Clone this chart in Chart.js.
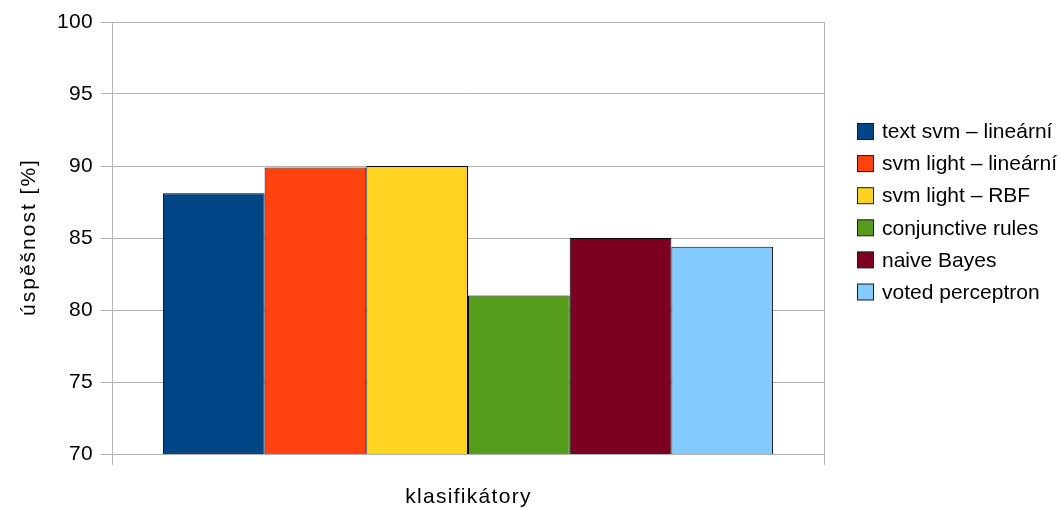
<!DOCTYPE html>
<html>
<head>
<meta charset="utf-8">
<script src="https://cdn.jsdelivr.net/npm/chart.js@4/dist/chart.umd.min.js"></script>
<style>
  html, body { margin: 0; padding: 0; background: #ffffff; }
  canvas { display: block; }
</style>
</head>
<body>
<canvas id="chart" width="1060" height="508"></canvas>
<script>
// Success rate of each classifier (single group of bars)
const categories = [''];
const seriesNames = [
  'text svm – lineární',
  'svm light – lineární',
  'svm light – RBF',
  'conjunctive rules',
  'naive Bayes',
  'voted perceptron'
];
const seriesValues = [88.1, 89.9, 90.0, 81.0, 85.0, 84.4];
const seriesColors = ['#004586', '#ff420e', '#ffd320', '#579d1c', '#7e0021', '#83caff'];
const yTickValues = [70, 75, 80, 85, 90, 95, 100];
const xTitle = 'klasifikátory';
const yTitle = 'úspěšnost [%]';

const FONT = 'Liberation Sans, Arial, sans-serif';
const LABEL_SIZE = 21;
const TITLE_SIZE = 21;
const SPACING = '0.3px';
const GRID = '#b3b3b3';

const datasets = seriesNames.map((name, i) => ({
  label: name,
  data: [seriesValues[i]],
  backgroundColor: seriesColors[i],
  borderColor: '#000000',
  borderWidth: 1,
  borderSkipped: false
}));

// Glyph spacing for tick labels
const spacingPlugin = {
  id: 'spacing',
  beforeUpdate(chart) { chart.ctx.letterSpacing = SPACING; },
  beforeLayout(chart) { chart.ctx.letterSpacing = SPACING; },
  beforeDraw(chart) { chart.ctx.letterSpacing = SPACING; }
};

// Axis titles with slightly wider letter spacing
const axisTitles = {
  id: 'axisTitles',
  afterDraw(chart) {
    const ctx = chart.ctx;
    const area = chart.chartArea;
    ctx.save();
    ctx.fillStyle = '#000000';
    ctx.font = TITLE_SIZE + 'px ' + FONT;
    ctx.textAlign = 'center';
    ctx.textBaseline = 'middle';
    ctx.letterSpacing = '1.3px';
    ctx.fillText(xTitle, (area.left + area.right) / 2 + 0.5, 497);
    ctx.translate(29, (area.top + area.bottom) / 2);
    ctx.rotate(-Math.PI / 2);
    ctx.letterSpacing = '2px';
    ctx.fillText(yTitle, 1, 0);
    ctx.restore();
  }
};

// Legend column on the right, one square per series
const sideLegend = {
  id: 'sideLegend',
  afterDraw(chart) {
    const ctx = chart.ctx;
    ctx.save();
    ctx.letterSpacing = '0px';
    ctx.font = LABEL_SIZE + 'px ' + FONT;
    ctx.textBaseline = 'middle';
    ctx.textAlign = 'left';
    const boxX = 857.5, top0 = 123.5, step = 32.1, box = 16;
    chart.data.datasets.forEach((ds, i) => {
      const y = top0 + i * step;
      ctx.fillStyle = ds.backgroundColor;
      ctx.fillRect(boxX, y, box, box);
      ctx.strokeStyle = '#1a1a1a';
      ctx.lineWidth = 1;
      ctx.strokeRect(boxX, y, box, box);
      ctx.fillStyle = '#000000';
      ctx.fillText(ds.label, 882, y + box / 2 + 1);
    });
    ctx.restore();
  }
};

new Chart(document.getElementById('chart'), {
  type: 'bar',
  data: { labels: categories, datasets },
  options: {
    responsive: false,
    animation: false,
    devicePixelRatio: 1,
    layout: { padding: { left: 0, top: 22, right: 236, bottom: 0 } },
    datasets: { bar: { categoryPercentage: 0.857, barPercentage: 1.0 } },
    plugins: {
      legend: { display: false },
      tooltip: { enabled: false }
    },
    scales: {
      x: {
        offset: true,
        grid: { display: true, offset: true, color: GRID, tickLength: 11, drawOnChartArea: true },
        border: { display: true, color: GRID },
        ticks: { display: false },
        title: { display: false },
        afterFit(scale) { scale.height = 54; }
      },
      y: {
        min: yTickValues[0],
        max: yTickValues[yTickValues.length - 1],
        afterBuildTicks(scale) { scale.ticks = yTickValues.map(v => ({ value: v })); },
        grid: { color: GRID, tickLength: 11 },
        border: { display: true, color: GRID },
        ticks: {
          color: '#000000', padding: 8,
          font: { family: FONT, size: LABEL_SIZE }
        },
        title: { display: false },
        afterFit(scale) { scale.width = 112; }
      }
    }
  },
  plugins: [spacingPlugin, axisTitles, sideLegend]
});
</script>
</body>
</html>
